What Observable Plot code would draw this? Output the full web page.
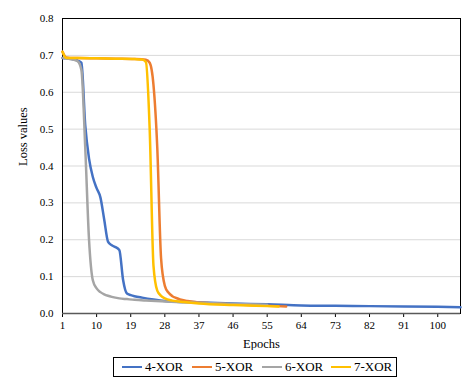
<!DOCTYPE html>
<html>
<head>
<meta charset="utf-8">
<script src="https://cdn.jsdelivr.net/npm/d3@7"></script>
<script src="https://cdn.jsdelivr.net/npm/@observablehq/plot@0.6"></script>
<style>
  body { margin: 0; background: #fff; font-family: "Liberation Serif", serif; }
  #wrap { position: relative; width: 467px; height: 386px; }
  #legend { position: absolute; left: 113px; top: 357px; width: 284px; height: 20px;
    border: 1px solid #000; box-sizing: border-box;
    font-size: 13px; color: #000; }
  .item { display: flex; align-items: center; position: absolute; top: 0; height: 18px; }
  .sw { width: 20px; height: 0; border-top: 2.5px solid; margin-right: 3px; }
</style>
</head>
<body>
<div id="wrap"><div id="chart"></div><div id="legend"></div></div>
<script>
const seriesNames = ["4-XOR", "5-XOR", "6-XOR", "7-XOR"];
const seriesColors = ["#4472C4", "#ED7D31", "#A5A5A5", "#FFC000"];
const xTicks = [1, 10, 19, 28, 37, 46, 55, 64, 73, 82, 91, 100];
const yTicks = [0, 0.1, 0.2, 0.3, 0.4, 0.5, 0.6, 0.7, 0.8];

const epochs4 = [1,2,3,4,5,6,7,8,9,10,11,12,13,14,15,16,17,18,19,20,22,25,28,31,35,40,46,55,64,73,82,91,100,106];
const loss4   = [0.693,0.692,0.691,0.689,0.686,0.68,0.51,0.42,0.37,0.34,0.315,0.255,0.195,0.185,0.18,0.172,0.09,0.054,0.05,0.047,0.043,0.038,0.034,0.032,0.031,0.029,0.027,0.025,0.022,0.021,0.020,0.019,0.018,0.017];

const epochs5 = [1,2,3,5,10,15,20,23,24,25,26,27,28,29,30,31,32,34,37,40,46,50,55,60];
const loss5   = [0.71,0.694,0.693,0.693,0.692,0.691,0.690,0.688,0.68,0.62,0.45,0.15,0.075,0.056,0.047,0.042,0.038,0.034,0.030,0.028,0.025,0.023,0.021,0.019];

const epochs6 = [1,2,3,4,5,6,7,8,9,10,11,12,13,14,16,18,20,23,27,31,37,46,55];
const loss6   = [0.693,0.692,0.690,0.688,0.684,0.66,0.45,0.2,0.09,0.068,0.058,0.052,0.048,0.045,0.041,0.039,0.037,0.035,0.033,0.031,0.029,0.026,0.024];

const epochs7 = [1,2,3,5,10,15,20,22,23,24,25,26,27,28,30,33,37,46,52,58];
const loss7   = [0.71,0.693,0.693,0.693,0.692,0.691,0.690,0.689,0.682,0.5,0.13,0.062,0.048,0.041,0.035,0.031,0.027,0.023,0.021,0.019];

const allEpochs = [epochs4, epochs5, epochs6, epochs7];
const allLoss = [loss4, loss5, loss6, loss7];
const data = [];
allEpochs.forEach((ep, s) => ep.forEach((e, i) => data.push({series: seriesNames[s], epoch: e, loss: allLoss[s][i]})));

const chart = Plot.plot({
  width: 467,
  height: 350,
  marginLeft: 62,
  marginRight: 7,
  marginTop: 18,
  marginBottom: 37,
  style: { fontFamily: "Liberation Serif, serif", fontSize: "11px", color: "#000", background: "#fff" },
  x: { domain: [1, 106] },
  y: { domain: [0, 0.8] },
  color: { domain: seriesNames, range: seriesColors },
  marks: [
    Plot.gridY(yTicks, { stroke: "#d9d9d9", strokeOpacity: 1, strokeWidth: 1 }),
    Plot.frame({ stroke: "#000", strokeWidth: 1 }),
    Plot.axisY({ ticks: yTicks, tickSize: 0, tickPadding: 9, tickFormat: d3.format(".1f"), label: null, fontSize: 11 }),
    Plot.axisX({ ticks: xTicks, tickSize: 4, tickPadding: 4, tickFormat: d => String(d), label: null, fontSize: 11 }),
    Plot.ruleY([0], { stroke: "#595959", strokeWidth: 1.5 }),
    Plot.line(data, { x: "epoch", y: "loss", z: "series", stroke: "series", strokeWidth: 2.5, curve: "monotone-x" }),
    Plot.text(["Epochs"], { frameAnchor: "bottom", lineAnchor: "middle", dy: 30, fontSize: 12.5 }),
    Plot.text(["Loss values"], { frameAnchor: "left", dx: -40, rotate: -90, fontSize: 12.5 })
  ]
});
document.getElementById("chart").appendChild(chart);

const legend = document.getElementById("legend");
const lefts = [8, 78, 148, 217];
seriesNames.forEach((name, i) => {
  const it = document.createElement("div");
  it.className = "item";
  it.style.left = lefts[i] + "px";
  const sw = document.createElement("span");
  sw.className = "sw";
  sw.style.borderColor = seriesColors[i];
  const t = document.createElement("span");
  t.textContent = name;
  it.appendChild(sw); it.appendChild(t);
  legend.appendChild(it);
});
</script>
</body>
</html>
